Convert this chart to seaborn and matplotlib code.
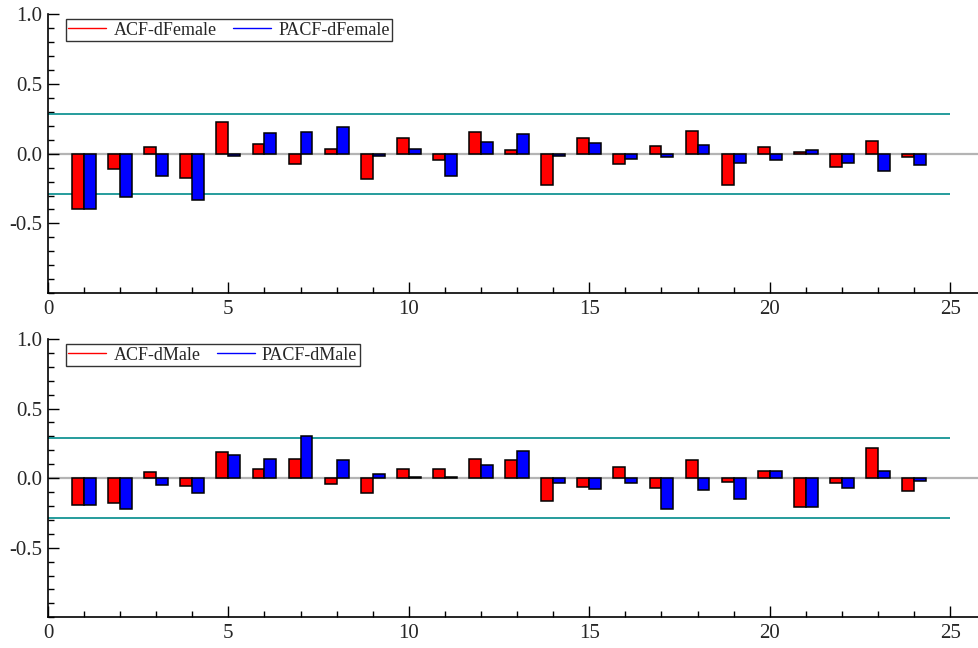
import numpy as np
import pandas as pd
import matplotlib
matplotlib.use("Agg")
import matplotlib.pyplot as plt
from matplotlib.lines import Line2D
from matplotlib.ticker import MultipleLocator, FixedLocator
import seaborn as sns

# Lags and correlogram values
lags = list(range(1, 25))
acf_female = [-0.40, -0.109, 0.051, -0.176, 0.227, 0.068, -0.075, 0.036, -0.181, 0.109, -0.043, 0.157,
              0.024, -0.225, 0.109, -0.075, 0.058, 0.164, -0.227, 0.046, 0.014, -0.097, 0.094, -0.022]
pacf_female = [-0.40, -0.307, -0.157, -0.329, -0.015, 0.147, 0.155, 0.193, -0.017, 0.034, -0.157, 0.082,
               0.143, -0.017, 0.075, -0.039, -0.027, 0.065, -0.068, -0.046, 0.029, -0.068, -0.121, -0.080]
acf_male = [-0.191, -0.179, 0.041, -0.056, 0.186, 0.068, 0.138, -0.041, -0.104, 0.065, 0.063, 0.140,
            0.128, -0.164, -0.065, 0.080, -0.072, 0.133, -0.027, 0.048, -0.205, -0.034, 0.213, -0.092]
pacf_male = [-0.191, -0.225, -0.048, -0.104, 0.169, 0.135, 0.302, 0.133, 0.031, 0.007, 0.007, 0.092,
             0.193, -0.036, -0.075, -0.034, -0.222, -0.085, -0.152, 0.053, -0.208, -0.070, 0.048, -0.024]
conf_band = 0.287

panels = [
    ("ACF-dFemale", "PACF-dFemale", acf_female, pacf_female),
    ("ACF-dMale", "PACF-dMale", acf_male, pacf_male),
]

y_ticks = [-0.5, 0.0, 0.5, 1.0]
y_tick_labels = ["-0.5", "0.0", "0.5", "1.0"]
x_ticks = [0, 5, 10, 15, 20, 25]

sns.set_style("ticks")
plt.rcParams["font.family"] = ["Liberation Serif", "DejaVu Serif"]

fig = plt.figure(figsize=(9.79, 6.48), dpi=100)
axes = [
    fig.add_axes([0.049, 0.5474, 0.951, 0.4310]),
    fig.add_axes([0.049, 0.0474, 0.951, 0.4295]),
]

for ax, (acf_name, pacf_name, acf_vals, pacf_vals) in zip(axes, panels):
    df = pd.DataFrame({
        "lag": lags * 2,
        "value": list(acf_vals) + list(pacf_vals),
        "series": [acf_name] * len(lags) + [pacf_name] * len(lags),
    })
    ax.axhline(0, color="#b4b4b4", lw=1.6, zorder=0)
    sns.barplot(data=df, x="lag", y="value", hue="series",
                hue_order=[acf_name, pacf_name], palette=["#ff0000", "#0000ff"],
                native_scale=True, dodge=True, width=0.66, saturation=1,
                edgecolor="black", linewidth=1.1, errorbar=None, legend=False,
                ax=ax, zorder=3)
    ax.hlines([conf_band, -conf_band], 0, 25, color="#008b8b", lw=1.2, zorder=2)

    ax.set_xlim(0, 25.8)
    ax.set_ylim(-1.0, 1.0)
    ax.set_xlabel("")
    ax.set_ylabel("")
    ax.xaxis.set_major_locator(FixedLocator(x_ticks))
    ax.xaxis.set_minor_locator(MultipleLocator(1))
    ax.set_yticks(y_ticks)
    ax.set_yticklabels(y_tick_labels)
    ax.yaxis.set_minor_locator(MultipleLocator(0.1))
    ax.tick_params(axis="both", which="major", direction="in", length=8, width=1,
                   labelsize=15, color="black")
    ax.tick_params(axis="both", which="minor", direction="in", length=4.5, width=1, color="black")
    ax.tick_params(axis="x", which="major", pad=5)
    ax.tick_params(axis="y", which="major", pad=4)
    for side in ("top", "right"):
        ax.spines[side].set_visible(False)
    for side in ("left", "bottom"):
        ax.spines[side].set_linewidth(1.2)
        ax.spines[side].set_color("black")

    handles = [Line2D([], [], color="#ff0000", lw=1.0),
               Line2D([], [], color="#0000ff", lw=1.0)]
    leg = ax.legend(handles, [acf_name, pacf_name], loc="upper left",
                    bbox_to_anchor=(0.019, 0.982), ncol=2, fontsize=13,
                    frameon=True, fancybox=False, handlelength=2.1,
                    handletextpad=0.4, columnspacing=0.9, borderpad=0.15,
                    borderaxespad=0.0)
    leg.get_frame().set_edgecolor("black")
    leg.get_frame().set_linewidth(1.0)

fig.savefig("out.png", dpi=100)
